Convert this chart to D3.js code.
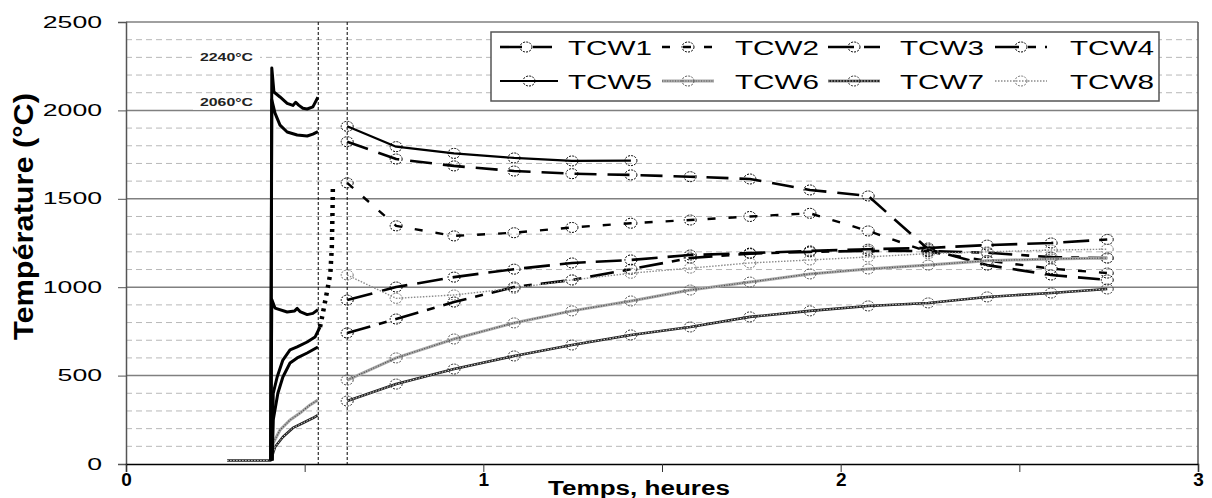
<!DOCTYPE html>
<html><head><meta charset="utf-8">
<script src="https://cdn.jsdelivr.net/npm/d3@7"></script>
<style>body{margin:0;background:#fff}svg{display:block}text{font-family:"Liberation Sans",Arial,sans-serif}</style>
</head><body>
<script>
// ---------- data ----------
const hours = [0.619, 0.756, 0.918, 1.086, 1.248, 1.413, 1.579, 1.746, 1.914, 2.077, 2.245, 2.410, 2.589, 2.746];
const tcw1 = [1823, 1725, 1686, 1657, 1642, 1635, 1625, 1612, 1550, 1516, 1215, 1125, 1069, 1041];
const tcw2 = [1590, 1347, 1290, 1308, 1338, 1362, 1380, 1400, 1418, 1318, 1200, 1150, 1105, 1080];
const tcw3 = [927, 1001, 1057, 1102, 1137, 1154, 1182, 1193, 1205, 1215, 1222, 1238, 1250, 1270];
const tcw4 = [741, 820, 916, 1001, 1041, 1102, 1165, 1190, 1200, 1205, 1205, 1195, 1170, 1165];
const tcw5 = [1910, 1795, 1757, 1731, 1714, 1716];
const tcw6 = [475, 600, 707, 798, 866, 922, 984, 1029, 1075, 1103, 1125, 1150, 1160, 1165];
const tcw7 = [356, 452, 537, 611, 673, 730, 775, 832, 866, 894, 911, 945, 967, 990];
const tcw8 = [1069, 937, 956, 994, 1041, 1079, 1108, 1137, 1154, 1171, 1190, 1200, 1210, 1215];

// early (heating) phase, [hours, °C]
const pre5 = [[0.405,20],[0.408,2240],[0.414,2104],[0.431,2076],[0.451,2040],[0.467,2028],[0.475,2046],[0.483,2030],[0.495,2012],[0.507,2008],[0.523,2020],[0.537,2074]];
const pre1 = [[0.405,20],[0.408,2060],[0.417,1985],[0.431,1917],[0.451,1878],[0.479,1861],[0.507,1855],[0.523,1866],[0.537,1880]];
const pre3 = [[0.405,20],[0.408,930],[0.417,882],[0.451,860],[0.472,866],[0.479,880],[0.487,862],[0.507,845],[0.523,852],[0.537,872]];
const pre2 = [[0.409,20],[0.412,400],[0.423,492],[0.439,588],[0.459,645],[0.479,662],[0.507,690],[0.529,718],[0.543,775]];
const rise2 = [[0.543,775],[0.551,854],[0.565,1001],[0.572,1080],[0.576,1227],[0.578,1437],[0.579,1578]];
const pre4 = [[0.409,20],[0.412,249],[0.425,400],[0.439,492],[0.459,571],[0.479,600],[0.507,628],[0.537,662]];
const pre6 = [[0.409,20],[0.412,119],[0.431,192],[0.459,249],[0.487,288],[0.515,334],[0.537,362]];
const pre7 = [[0.283,20],[0.405,20],[0.417,96],[0.439,153],[0.467,204],[0.495,232],[0.523,260],[0.537,277]];

const refLines = [0.538, 0.619];
const peakLabels = ["2240°C", "2060°C"];
const peakValues = [2240, 2060];
const yTicks = [0, 500, 1000, 1500, 2000, 2500];
const xTicks = [0, 1, 2, 3];
const xMinor = [0.5, 1.5, 2.5];
const names = ["TCW1","TCW2","TCW3","TCW4","TCW5","TCW6","TCW7","TCW8"];

// ---------- chart ----------
const W = 1212, H = 498;
const svg = d3.select("body").append("svg").attr("width", W).attr("height", H);
const x = d3.scaleLinear().domain([0, 3]).range([126, 1198]);
const y = d3.scaleLinear().domain([0, 2500]).range([464, 22]);

// grid
const minor = d3.range(100, 2500, 100).filter(v => v % 500 !== 0);
svg.append("g").selectAll("line").data(minor).join("line")
  .attr("x1", x(0)).attr("x2", x(3)).attr("y1", d => y(d)).attr("y2", d => y(d))
  .attr("stroke", "#b8b8b8").attr("stroke-width", 1).attr("stroke-dasharray", "6,4");
svg.append("g").selectAll("line").data([500,1000,1500,2000,2500]).join("line")
  .attr("x1", x(0)).attr("x2", x(3)).attr("y1", d => y(d)).attr("y2", d => y(d))
  .attr("stroke", "#808080").attr("stroke-width", 1.5);
svg.append("line").attr("x1", x(3)).attr("x2", x(3)).attr("y1", y(2500)).attr("y2", y(0))
  .attr("stroke", "#555").attr("stroke-width", 1.5);

// peak labels with white background
peakValues.forEach((v, i) => {
  const cy = i === 0 ? y(2300) : y(v) + 2;
  svg.append("rect").attr("x", 193).attr("y", cy - 8).attr("width", 67).attr("height", 16).attr("fill", "#fff");
  svg.append("text").attr("x", 200).attr("y", cy + 4).text(peakLabels[i])
    .attr("font-family", "DejaVu Sans").attr("font-weight", "bold").attr("font-size", 11)
    .attr("textLength", 53).attr("lengthAdjust", "spacingAndGlyphs").attr("fill", "#222");
});

// reference dashed verticals
svg.append("g").selectAll("line").data(refLines).join("line")
  .attr("x1", d => x(d)).attr("x2", d => x(d)).attr("y1", y(2500)).attr("y2", y(0))
  .attr("stroke", "#000").attr("stroke-width", 1).attr("stroke-dasharray", "3,2");

// axes
const ya = svg.append("g").attr("transform", `translate(${x(0)},0)`)
  .call(d3.axisLeft(y).tickValues(yTicks).tickSize(8).tickPadding(16).tickFormat(d3.format("d")));
ya.select(".domain").attr("stroke", "#555").attr("stroke-width", 1.5);
ya.selectAll(".tick line").attr("stroke", "#555");
ya.selectAll("text").attr("font-family", "Liberation Sans").attr("font-size", 16).attr("fill", "#000")
  .attr("textLength", d => String(d).length * 14.8).attr("lengthAdjust", "spacingAndGlyphs");

const xa = svg.append("g").attr("transform", `translate(0,${y(0)})`)
  .call(d3.axisBottom(x).tickValues(xTicks.concat(xMinor)).tickSize(8).tickPadding(3)
    .tickFormat(d => Number.isInteger(d) ? d : ""));
xa.select(".domain").attr("stroke", "#000").attr("stroke-width", 1.5);
xa.selectAll(".tick line").attr("stroke", "#333");
xa.selectAll("text").attr("font-family", "Liberation Sans").attr("font-weight", "bold")
  .attr("font-size", 19).attr("fill", "#000").attr("dy", "0.6em");

svg.append("text").attr("x", 548).attr("y", 495).text("Temps, heures")
  .attr("font-weight", "bold").attr("font-size", 20)
  .attr("textLength", 182).attr("lengthAdjust", "spacingAndGlyphs");
svg.append("text").attr("transform", "translate(33,340) rotate(-90)").text("Température (°C)")
  .attr("font-weight", "bold").attr("font-size", 27)
  .attr("textLength", 247).attr("lengthAdjust", "spacingAndGlyphs");

// styles
const styles = {
  TCW1: [{c:"#000", w:2.6, d:"22,11"}],
  TCW2: [{c:"#000", w:2.4, d:"8,13"}],
  TCW3: [{c:"#000", w:2.6, d:"26,10"}],
  TCW4: [{c:"#000", w:2.6, d:"24,9,8,9"}],
  TCW5: [{c:"#000", w:2.2, d:null}],
  TCW6: [{c:"#a8a8a8", w:3, d:null}, {c:"#4a4a4a", w:1.2, d:"1,1.6"}],
  TCW7: [{c:"#222", w:2.6, d:null}, {c:"#fff", w:0.8, d:"1.5,1.5"}],
  TCW8: [{c:"#8c8c8c", w:1.4, d:"1.5,1.5"}]
};
const markerColor = {TCW6:"#555", TCW7:"#333", TCW8:"#777"};
const line = d3.line().x(d => x(d[0])).y(d => y(d[1]));

function drawPath(g, pts, st) {
  st.forEach(s => g.append("path").attr("d", line(pts)).attr("fill", "none")
    .attr("stroke", s.c).attr("stroke-width", s.w).attr("stroke-dasharray", s.d)
    .attr("stroke-linejoin", "round"));
}

// early phase
const early = svg.append("g");
drawPath(early, pre7, styles.TCW7);
drawPath(early, pre6, styles.TCW6);
[pre4, pre3, pre2, pre1, pre5].forEach(p => drawPath(early, p, [{c:"#000", w:3, d:null}]));
drawPath(early, rise2, [{c:"#000", w:4.5, d:"3,5"}]);

// main series
const seriesVals = [tcw1, tcw2, tcw3, tcw4, tcw5, tcw6, tcw7, tcw8];
const main = svg.append("g");
seriesVals.forEach((vals, i) => {
  const nm = names[i];
  const pts = vals.map((v, j) => [hours[j], v]);
  drawPath(main, pts, styles[nm]);
  main.append("g").selectAll("ellipse").data(pts).join("ellipse")
    .attr("cx", d => x(d[0])).attr("cy", d => y(d[1])).attr("rx", 6).attr("ry", 5)
    .attr("fill", "none").attr("stroke", markerColor[nm] || "#000").attr("stroke-width", 1)
    .attr("stroke-dasharray", "2,1.2");
});

// legend
const lg = svg.append("g");
lg.append("rect").attr("x", 491).attr("y", 32).attr("width", 668).attr("height", 69)
  .attr("fill", "#fff").attr("stroke", "#555").attr("stroke-width", 1.5);
const colX = [500, 662, 828, 995], txtX = [568, 735, 900, 1070], rowY = [47, 81];
names.forEach((nm, i) => {
  const r = Math.floor(i / 4), c = i % 4;
  const x0 = colX[c], x1 = colX[c] + (i === 4 ? 58 : 52), yy = rowY[r];
  styles[nm].forEach(s => lg.append("line").attr("x1", x0).attr("x2", x1).attr("y1", yy).attr("y2", yy)
    .attr("stroke", s.c).attr("stroke-width", s.w).attr("stroke-dasharray", s.d));
  lg.append("ellipse").attr("cx", (x0 + x1) / 2).attr("cy", yy).attr("rx", 6).attr("ry", 5)
    .attr("fill", "none").attr("stroke", markerColor[nm] || "#000").attr("stroke-dasharray", "2,1.2");
  lg.append("text").attr("x", txtX[c]).attr("y", yy + 7.5).text(nm)
    .attr("font-size", 20.5).attr("textLength", 84).attr("lengthAdjust", "spacingAndGlyphs");
});
</script>
</body></html>
